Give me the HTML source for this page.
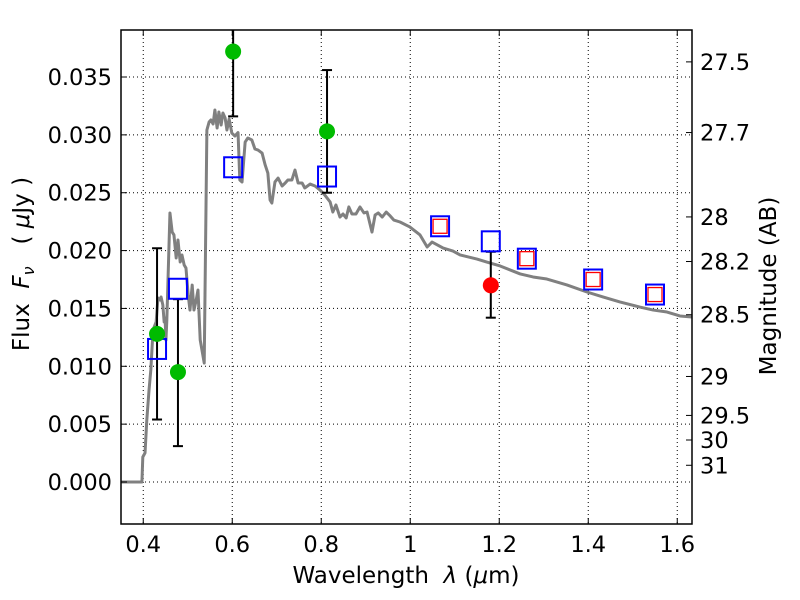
<!DOCTYPE html>
<html><head><meta charset="utf-8"><style>
body{margin:0;background:#fff;}
svg{display:block;font-family:"DejaVu Sans","Liberation Sans",sans-serif;}
</style></head><body>
<svg id="chart" width="800" height="600" viewBox="0 0 800 600" xmlns="http://www.w3.org/2000/svg"></svg>
<script>
const specWl=[0.35,0.397,0.399,0.404,0.408,0.413,0.417,0.422,0.429,0.433,0.438,0.440,0.444,0.447,0.449,0.451,0.453,0.460,0.465,0.469,0.474,0.478,0.483,0.487,0.492,0.496,0.501,0.505,0.510,0.514,0.519,0.523,0.528,0.537,0.543,0.548,0.552,0.557,0.561,0.566,0.570,0.575,0.579,0.584,0.588,0.593,0.599,0.606,0.613,0.617,0.622,0.629,0.635,0.644,0.651,0.658,0.667,0.674,0.680,0.685,0.689,0.696,0.703,0.712,0.719,0.725,0.734,0.741,0.748,0.757,0.763,0.775,0.786,0.797,0.808,0.820,0.826,0.833,0.842,0.849,0.856,0.862,0.869,0.878,0.887,0.896,0.903,0.914,0.921,0.928,0.937,0.946,0.955,0.963,0.977,0.999,1.022,1.038,1.049,1.074,1.096,1.112,1.150,1.172,1.202,1.247,1.276,1.307,1.352,1.397,1.433,1.471,1.516,1.546,1.577,1.606,1.633];
const specFlux=[0,0,0.00216,0.00251,0.00536,0.00795,0.00968,0.01314,0.01383,0.0159,0.01573,0.01599,0.0153,0.01383,0.01417,0.01227,0.0140,0.02325,0.0216,0.02135,0.01936,0.02091,0.01901,0.01962,0.01875,0.01849,0.01616,0.01486,0.01702,0.01486,0.01573,0.01659,0.01227,0.01028,0.03042,0.03111,0.03129,0.03094,0.03215,0.03059,0.03198,0.03085,0.03189,0.03146,0.03042,0.03137,0.03016,0.0299,0.0302,0.0261,0.02593,0.02938,0.02973,0.02956,0.02878,0.02869,0.02843,0.0274,0.0267,0.02437,0.02411,0.02593,0.02627,0.02558,0.02584,0.0261,0.0261,0.02696,0.02584,0.02584,0.02541,0.02575,0.02558,0.02524,0.0248,0.0242,0.02333,0.02394,0.0229,0.02316,0.02282,0.02377,0.02316,0.02316,0.02377,0.02325,0.02333,0.0216,0.02307,0.02325,0.0229,0.02333,0.02299,0.02264,0.02247,0.02204,0.02135,0.02031,0.02074,0.02022,0.01996,0.01962,0.01927,0.01901,0.01867,0.01798,0.01772,0.01754,0.01703,0.01642,0.01599,0.01556,0.01512,0.01486,0.01469,0.01435,0.01426];
const detWl=[0.431,0.478,0.602,0.813];
const detFlux=[0.0128,0.0095,0.0372,0.0303];
const detLo=[0.0054,0.0031,0.0316,0.0250];
const detHi=[0.0202,0.0158,0.0430,0.0356];
const redWl=[1.181];const redFlux=[0.0170];const redLo=[0.0142];const redHi=[0.0199];
const sqWl=[0.431,0.478,0.602,0.813,1.067,1.181,1.262,1.411,1.55];
const sqFlux=[0.0115,0.0167,0.0272,0.0264,0.0221,0.0208,0.0193,0.0175,0.0162];
const sqInner=[false,false,false,false,true,false,true,true,true];
const xTicks=[0.4,0.6,0.8,1.0,1.2,1.4,1.6];
const xTickLabels=["0.4","0.6","0.8","1","1.2","1.4","1.6"];
const yTicks=[0,0.005,0.01,0.015,0.02,0.025,0.03,0.035];
const yTickLabels=["0.000","0.005","0.010","0.015","0.020","0.025","0.030","0.035"];
const magTicks=[27.5,27.7,28,28.2,28.5,29,29.5,30,31];
const magLabels=["27.5","27.7","28","28.2","28.5","29","29.5","30","31"];

const L=121,R=692,T=30,B=524;
const X=v=>L+(v-0.35)*445;
const Y=v=>482-v*11571;
const svg=document.getElementById('chart');
const NS='http://www.w3.org/2000/svg';
function mk(tag,attrs,parent){const e=document.createElementNS(NS,tag);for(const k in attrs)e.setAttribute(k,attrs[k]);(parent||svg).appendChild(e);return e;}
const clip=mk('clipPath',{id:'pc'});mk('rect',{x:L,y:T,width:R-L,height:B-T},clip);
xTicks.forEach(t=>{const g=mk('line',{x1:X(t),x2:X(t),y1:T,y2:B,stroke:'#000','stroke-width':1,'stroke-dasharray':'1,3'});

});
yTicks.forEach(t=>{const g=mk('line',{x1:L,x2:R,y1:Y(t),y2:Y(t),stroke:'#000','stroke-width':1,'stroke-dasharray':'1,3'});

});
const plot=mk('g',{'clip-path':'url(#pc)'});


const sp=mk('polyline',{points:specWl.map((w,i)=>X(w)+','+Y(specFlux[i])).join(' '),fill:'none',stroke:'#808080','stroke-width':3,'stroke-linejoin':'round'},plot);


function ebar(w,lo,hi,name){const g=mk('g',{},plot);


mk('line',{x1:X(w),x2:X(w),y1:Y(lo),y2:Y(hi),stroke:'#000','stroke-width':2},g);
mk('line',{x1:X(w)-5,x2:X(w)+5,y1:Y(lo),y2:Y(lo),stroke:'#000','stroke-width':2},g);
mk('line',{x1:X(w)-5,x2:X(w)+5,y1:Y(hi),y2:Y(hi),stroke:'#000','stroke-width':2},g);}
detWl.forEach((w,i)=>ebar(w,detLo[i],detHi[i],'detection-error-bar'));
redWl.forEach((w,i)=>ebar(w,redLo[i],redHi[i],'red-error-bar'));
sqWl.forEach((w,i)=>{const s=mk('rect',{x:X(w)-9,y:Y(sqFlux[i])-10,width:18,height:20,fill:'none',stroke:'#0000ff','stroke-width':2},plot);


if(sqInner[i]){const r=mk('rect',{x:X(w)-7,y:Y(sqFlux[i])-7,width:14,height:14,fill:'#fff',stroke:'#ff0000','stroke-width':1.3},plot);

}});
detWl.forEach((w,i)=>{const c=mk('circle',{cx:X(w),cy:Y(detFlux[i]),r:8,fill:'#00bb00'},plot);

});
redWl.forEach((w,i)=>{const c=mk('circle',{cx:X(w),cy:Y(redFlux[i]),r:8,fill:'#ff0000'},plot);

});
const fr=mk('rect',{x:L,y:T,width:R-L,height:B-T,fill:'none',stroke:'#000','stroke-width':1.5});


xTicks.forEach((t,i)=>{mk('line',{x1:X(t),x2:X(t),y1:B,y2:B-6,stroke:'#000'});mk('line',{x1:X(t),x2:X(t),y1:T,y2:T+6,stroke:'#000'});
const tx=mk('text',{x:X(t),y:B+28,'font-size':22.5,'text-anchor':'middle'});tx.textContent=xTickLabels[i];

});
yTicks.forEach((t,i)=>{mk('line',{x1:L,x2:L+6,y1:Y(t),y2:Y(t),stroke:'#000'});
const tx=mk('text',{x:L-9,y:Y(t)+8,'font-size':22.5,'text-anchor':'end'});tx.textContent=yTickLabels[i];

});
magTicks.forEach((m,i)=>{const y=Y(Math.pow(10,(23.9-m)/2.5));mk('line',{x1:R,x2:R-6,y1:y,y2:y,stroke:'#000'});
const tx=mk('text',{x:R+8,y:y+8,'font-size':22.5});tx.textContent=magLabels[i];

});
</script>
<svg style="position:absolute;left:0;top:0" width="800" height="600">
<text x="406" y="583" font-size="23" text-anchor="middle" font-family="DejaVu Sans, Liberation Sans, sans-serif" xml:space="preserve">Wavelength  <tspan font-style="italic">λ</tspan> (<tspan font-style="italic">μ</tspan>m)</text>
<text transform="translate(29,264) rotate(-90)" font-size="23" text-anchor="middle" font-family="DejaVu Sans, Liberation Sans, sans-serif" xml:space="preserve">Flux  <tspan font-style="italic">F</tspan><tspan font-style="italic" font-size="16" dy="5">ν</tspan><tspan dy="-5">   ( </tspan><tspan font-style="italic">μ</tspan>Jy )</text>
<text transform="translate(776,286) rotate(-90)" font-size="23" text-anchor="middle" font-family="DejaVu Sans, Liberation Sans, sans-serif">Magnitude (AB)</text>
</svg>
</body></html>
